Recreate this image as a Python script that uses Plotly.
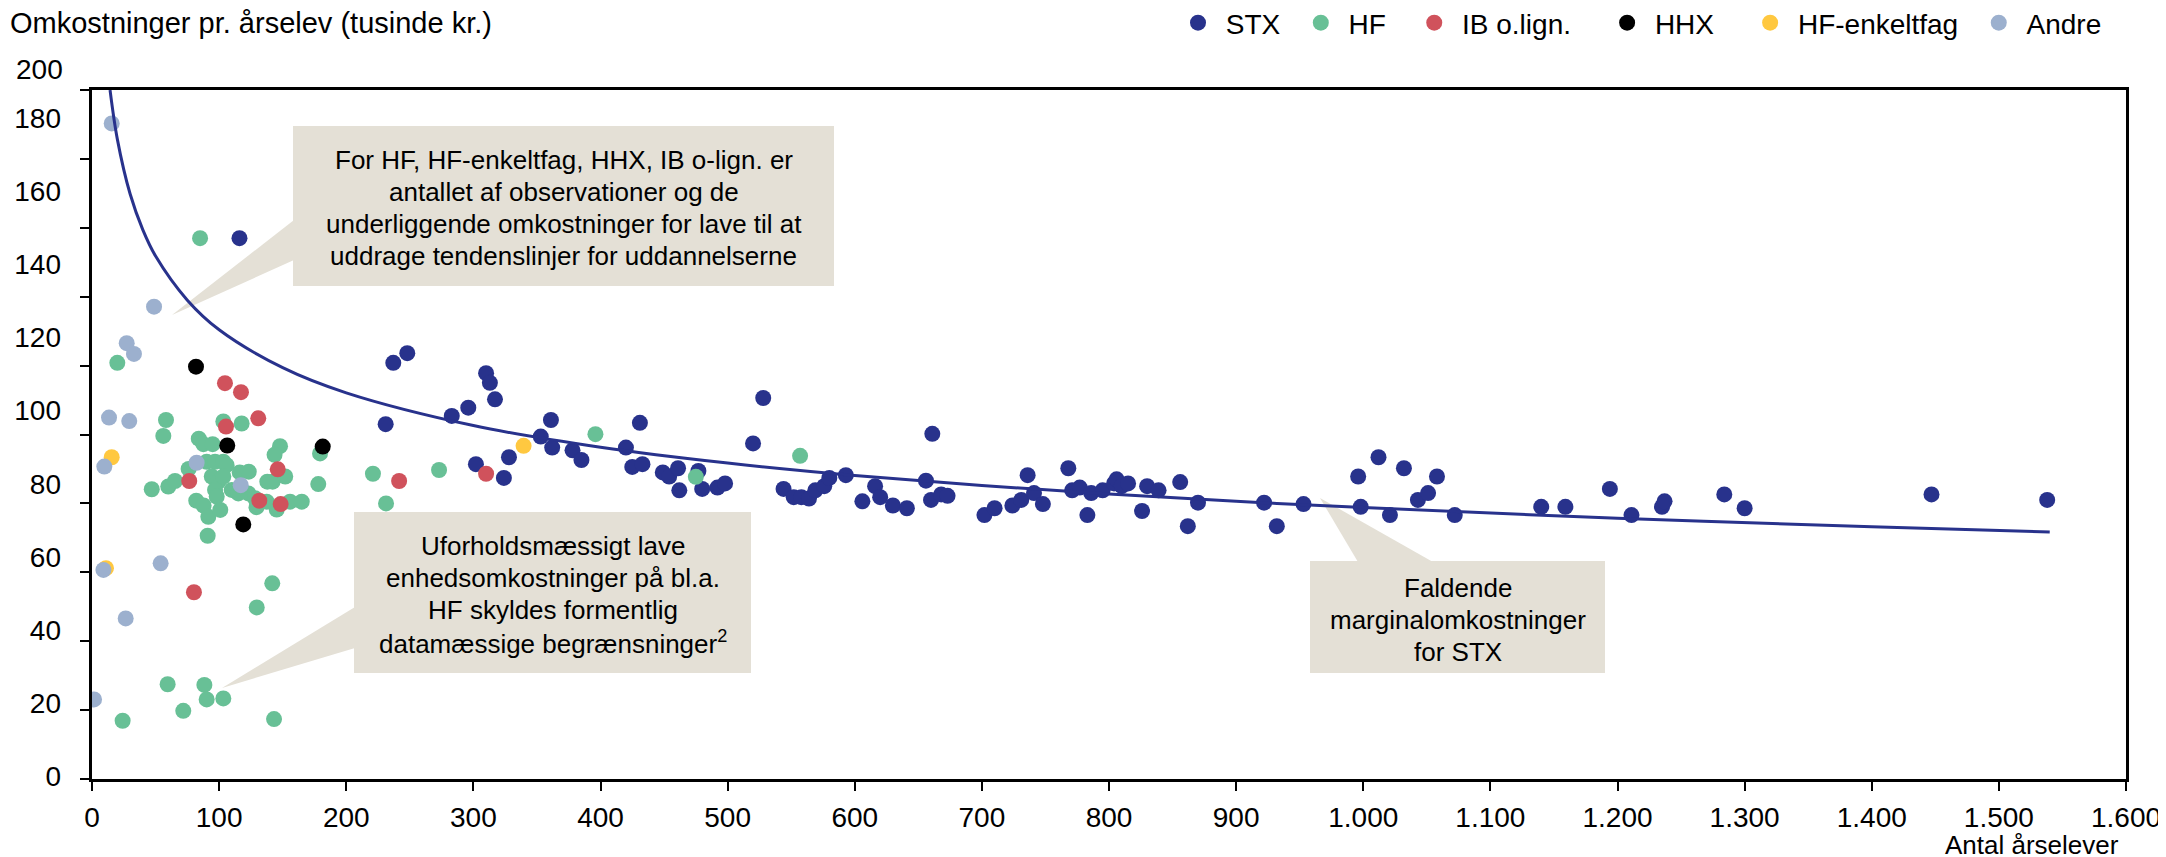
import plotly.graph_objects as go

# ---------------- data ----------------
stx_x = [116, 237, 248, 231, 283, 296, 310, 313, 317, 302, 324, 328, 353, 361, 362, 378, 385,
         420, 425, 431, 433, 449, 454, 461, 462, 477, 480, 492, 498, 520, 528, 544, 552, 558,
         564, 569, 576, 580, 593, 606, 616, 620, 630, 641, 656, 661, 660, 668, 673, 702, 710,
         724, 731, 736, 741, 748, 768, 771, 777, 783, 786, 795, 804, 806, 810, 815, 826, 830,
         839, 856, 862, 870, 922, 932, 953, 996, 998, 1012, 1021, 1032, 1043, 1051, 1058, 1072,
         1140, 1159, 1194, 1211, 1235, 1237, 1284, 1300, 1447, 1538]
stx_y = [157.0, 120.8, 123.6, 103.0, 105.4, 107.8, 117.8, 115.0, 110.2, 91.4, 87.4, 93.4, 99.4,
         104.2, 96.2, 95.4, 92.6, 96.2, 90.6, 103.4, 91.4, 89.0, 87.8, 90.2, 83.8, 89.4, 84.2,
         84.6, 85.8, 97.4, 110.6, 84.2, 81.8, 81.8, 81.4, 83.8, 85.0, 87.4, 88.2, 80.6, 85.0,
         81.8, 79.4, 78.6, 86.6, 100.2, 81.0, 82.6, 82.2, 76.6, 78.6, 79.4, 81.0, 88.2, 83.0,
         79.8, 90.2, 83.8, 84.6, 76.6, 83.0, 83.8, 85.8, 87.0, 85.0, 85.8, 77.8, 85.0, 83.8,
         86.2, 73.4, 80.2, 80.2, 73.4, 79.8, 87.8, 79.0, 93.4, 76.6, 90.2, 81.0, 83.0, 87.8,
         76.6, 79.0, 79.0, 84.2, 76.6, 79.0, 80.6, 82.6, 78.6, 82.6, 81.0]

hf_x = [85.0, 19.9, 58.2, 56.1, 103.3, 117.7, 84.0, 87.6, 94.9, 179.4, 147.9, 143.6, 221.0, 90.2,
        96.8, 103.3, 105.9, 76.0, 94.2, 99.4, 103.3, 47.0, 60.0, 65.3, 116.2, 123.3, 96.8, 98.1,
        109.9, 115.1, 123.0, 128.2, 137.9, 142.1, 152.0, 178.0, 231.3, 82.0, 87.8, 91.5, 100.9,
        91.0, 129.4, 145.3, 137.4, 155.8, 165.0, 141.8, 129.6, 59.5, 88.4, 90.2, 103.3, 71.8,
        24.1, 143.2, 273.0, 396.0, 475.0, 557.0]
hf_y = [157.0, 120.8, 104.2, 99.6, 103.8, 103.2, 98.8, 97.2, 97.2, 94.5, 96.6, 94.1, 88.6, 92.1,
        92.1, 92.1, 91.1, 90.0, 87.8, 86.3, 87.8, 84.1, 84.9, 86.5, 89.0, 89.2, 83.9, 82.0,
        83.9, 82.9, 82.9, 81.5, 86.3, 86.3, 87.8, 85.6, 80.0, 80.8, 79.4, 76.1, 78.1,
        70.6, 78.9, 78.2, 80.5, 80.5, 80.5, 56.8, 49.8, 27.5, 27.3, 23.1, 23.4, 19.8,
        16.9, 17.4, 89.7, 100.1, 87.7, 93.8]

ib_x = [104.6, 117.2, 105.4, 130.8, 146.1, 76.5, 131.6, 148.4, 80.2, 241.6, 310.0]
ib_y = [114.9, 112.3, 102.3, 104.7, 89.9, 86.5, 80.8, 79.8, 54.2, 86.5, 88.6]

hhx_x = [81.8, 106.4, 181.5, 119.0]
hhx_y = [119.7, 96.8, 96.5, 73.9]

hfe_x = [15.5, 11.0, 339.5]
hfe_y = [93.4, 61.2, 96.7]

andre_x = [15.5, 48.8, 27.3, 33.0, 13.4, 29.3, 9.7, 82.3, 117.0, 9.0, 54.0, 26.5, 1.6]
andre_y = [190.3, 137.1, 126.5, 123.4, 104.9, 103.9, 90.7, 91.8, 85.3, 60.7, 62.6, 46.6, 23.1]

# STX trend line
trend_x = [14.2, 20, 30, 40, 50, 75, 100, 150, 200, 300, 400, 500, 600, 700, 800, 900, 1000,
           1200, 1400, 1540]
trend_y = [200.0, 185.6, 169.8, 159.4, 151.8, 139.0, 130.4, 119.4, 112.1, 102.6, 96.3, 91.7,
           88.1, 85.2, 82.7, 80.6, 78.8, 75.7, 73.2, 71.7]

series_names = ["STX", "HF", "IB o.lign.", "HHX", "HF-enkeltfag", "Andre"]
series_colors = ["#28328C", "#68C096", "#D0525C", "#000000", "#FFC840", "#9CB0CE"]
legend_pad = [2, 3, 4, 4, 2, 0]   # trailing spaces after each legend entry

y_tick_vals = [0, 20, 40, 60, 80, 100, 120, 140, 160, 180]
x_tick_vals = [0, 100, 200, 300, 400, 500, 600, 700, 800, 900, 1000, 1100, 1200, 1300, 1400,
               1500, 1600]

y_title = "Omkostninger pr. årselev (tusinde kr.)"
x_title = "Antal årselever"
note1 = ["For HF, HF-enkeltfag, HHX, IB o-lign. er", "antallet af observationer og de",
         "underliggende omkostninger for lave til at", "uddrage tendenslinjer for uddannelserne"]
note2 = ["Uforholdsmæssigt lave", "enhedsomkostninger på bl.a.", "HF skyldes formentlig",
         "datamæssige begrænsninger<sup>2</sup>"]
note3 = ["Faldende", "marginalomkostninger", "for STX"]

# ---------------- figure ----------------
FONT = "Liberation Sans, Arial, sans-serif"
FS = 28
W, H = 2166, 857
OFF = 8                      # the page body margin shifts the figure by 8 px
L, R, T, B = 92 - OFF, W - (2126 - OFF), 0, H - (779 - OFF)
plot_h = H - T - B
plot_w = W - L - R

def py(pix):  # screen pixel row -> paper y
    return (H - B - (pix - OFF)) / plot_h

def px(pix):  # screen pixel col -> paper x
    return (pix - OFF - L) / plot_w

def dx(p): return (p - 92) / 1.27125
def dy(p): return (779 - p) / 3.445

fig = go.Figure()
xs = [stx_x, hf_x, ib_x, hhx_x, hfe_x, andre_x]
ys = [stx_y, hf_y, ib_y, hhx_y, hfe_y, andre_y]
NB = "\u00a0"
for name, col, xv, yv, pad in zip(series_names, series_colors, xs, ys, legend_pad):
    fig.add_trace(go.Scatter(x=xv, y=yv, mode="markers", name=NB + name + NB * pad,
                             marker=dict(color=col, size=16, line=dict(width=0))))

fig.add_trace(go.Scatter(x=trend_x, y=trend_y, mode="lines", showlegend=False,
                         line=dict(color="#28328C", width=3, shape="spline", smoothing=1.0),
                         hoverinfo="skip"))

# label-only axis carrying the y tick labels (placed as in the reference)
fig.add_trace(go.Scatter(x=[0], y=[0], yaxis="y2", mode="markers", showlegend=False,
                         marker=dict(opacity=0), hoverinfo="skip"))

BOX = "#E4E0D6"
def box(x0, y0, x1, y1):
    fig.add_shape(type="rect", xref="x", yref="y", x0=x0, y0=y0, x1=x1, y1=y1,
                  fillcolor=BOX, line=dict(width=0), layer="below")

def tri(pts):
    path = "M " + " L ".join(f"{a:.2f},{b:.2f}" for a, b in pts) + " Z"
    fig.add_shape(type="path", xref="x", yref="y", path=path, fillcolor=BOX,
                  line=dict(width=0), layer="below")

box(dx(293), dy(286), dx(834), dy(126))
tri([(dx(294), dy(220)), (dx(294), dy(260)), (dx(172), dy(315))])
box(dx(354), dy(673), dx(751), dy(512))
tri([(dx(355), dy(607)), (dx(355), dy(648)), (dx(222), dy(688))])
box(dx(1310), dy(673), dx(1605), dy(561))
tri([(dx(1358), dy(562)), (dx(1433), dy(562)), (dx(1320), dy(498))])

LINE_H = 32.3
for lines, cx, cy in [(note1, 563.5, 208), (note2, 552.5, 594), (note3, 1457.5, 620)]:
    n = len(lines)
    for k, txt in enumerate(lines):
        yy = cy + (k - (n - 1) / 2) * LINE_H
        fig.add_annotation(x=dx(cx), y=dy(yy), xref="x", yref="y", text=txt, showarrow=False,
                           xanchor="center", yanchor="middle",
                           font=dict(family=FONT, size=26, color="#000"))

fig.add_annotation(x=px(8), y=py(23), xref="paper", yref="paper", xanchor="left",
                   yanchor="middle", text=y_title, showarrow=False,
                   font=dict(family=FONT, size=29, color="#000"))
fig.add_annotation(x=px(2121), y=py(845), xref="paper", yref="paper", xanchor="right",
                   yanchor="middle", text=x_title, showarrow=False,
                   font=dict(family=FONT, size=26, color="#000"))

fig.update_layout(
    width=W, height=H, margin=dict(l=L, r=R, t=T, b=B, autoexpand=False),
    paper_bgcolor="white", plot_bgcolor="rgba(0,0,0,0)",
    separators=",.",
    font=dict(family=FONT, size=FS, color="#000"),
    showlegend=True,
    legend=dict(orientation="h", x=px(2107), xanchor="right", y=py(23), yanchor="middle",
                font=dict(family=FONT, size=FS, color="#000"), itemwidth=30,
                bgcolor="rgba(0,0,0,0)", traceorder="normal"),
    xaxis=dict(range=[0, 1600], tickvals=x_tick_vals, tickformat=",d", ticks="outside",
               ticklen=9, tickwidth=2, tickcolor="#000", showline=True, linewidth=3,
               linecolor="#000", mirror=True, showgrid=False, zeroline=False,
               ticklabelstandoff=2, tickfont=dict(size=FS), automargin=False),
    yaxis=dict(range=[0, 200], domain=[0, py(90)], dtick=20, ticks="outside", ticklen=9,
               tickwidth=2, tickcolor="#000", showline=True, linewidth=3, linecolor="#000",
               mirror=True, showgrid=False, zeroline=False, showticklabels=False,
               automargin=False),
    yaxis2=dict(range=[0, 180], domain=[py(776), py(118.3)], anchor="x",
                tickvals=y_tick_vals, showline=False, ticks="", showgrid=False,
                zeroline=False, ticklabelstandoff=30, tickfont=dict(size=FS),
                automargin=False),
)
# the 200 label above the frame
fig.add_annotation(x=px(65), y=py(69), xref="paper", yref="paper", xanchor="right",
                   yanchor="middle", text="200", showarrow=False,
                   font=dict(family=FONT, size=FS, color="#000"))

fig.write_html("out.html")
